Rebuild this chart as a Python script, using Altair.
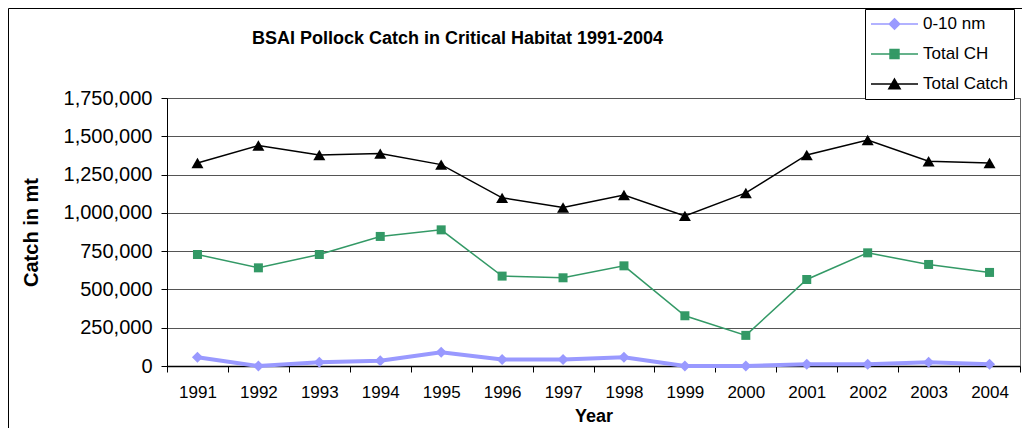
import altair as alt
import pandas as pd

# ---------------- data ----------------
years = ["1991", "1992", "1993", "1994", "1995", "1996", "1997",
         "1998", "1999", "2000", "2001", "2002", "2003", "2004"]
series_names = ["0-10 nm", "Total CH", "Total Catch"]
nm_values = [57000, 0, 24000, 35000, 89000, 43000, 43000,
             57000, 0, 0, 11000, 11000, 24000, 11000]
ch_values = [728000, 641000, 728000, 846000, 889000, 587000, 576000,
             654000, 328000, 200000, 565000, 739000, 663000, 611000]
total_values = [1326000, 1440000, 1378000, 1387000, 1315000, 1098000, 1035000,
                1117000, 980000, 1130000, 1378000, 1476000, 1337000, 1326000]
y_ticks = [0, 250000, 500000, 750000, 1000000, 1250000, 1500000, 1750000]
chart_title = "BSAI Pollock Catch in Critical Habitat 1991-2004"

colors = ["#9999FF", "#339966", "#000000"]
line_widths = [4, 1.5, 1.5]
point_shapes = ["diamond", "square", "triangle-up"]
point_sizes = [121, 81, 144]
legend_paths = [
    "M-1,0H1M0,-0.22L0.22,0L0,0.22L-0.22,0Z",
    "M-1,0H1M-0.19,-0.19H0.19V0.19H-0.19Z",
    "M-1,0H1M0,-0.21L0.24,0.2H-0.24Z",
]

rows = []
for name, vals in zip(series_names, [nm_values, ch_values, total_values]):
    for yr, v in zip(years, vals):
        rows.append({"year": yr, "series": name, "catch": v})
df = pd.DataFrame(rows)

FONT = "Liberation Sans"
W, H = 853, 268

x_enc = alt.X(
    "year:O", sort=years, bandPosition=0.5,
    scale=alt.Scale(type="band", paddingInner=0, paddingOuter=0),
    axis=alt.Axis(
        title="Year", labelAngle=0, tickBand="extent", tickSize=6,
        tickColor="black", domainColor="black", domainWidth=1.5,
        labelFont=FONT, labelFontSize=17, labelColor="black", labelPadding=12,
        titleFont=FONT, titleFontSize=18, titleFontWeight="bold", titleColor="black",
        titleY=55, titleBaseline="alphabetic", grid=False,
    ),
)
y_enc = alt.Y(
    "catch:Q",
    scale=alt.Scale(domain=[0, 1750000], nice=False, zero=True),
    axis=alt.Axis(
        title="Catch in mt", values=y_ticks, format=",.0f", tickSize=6,
        tickColor="black", domainColor="black", domainWidth=1,
        labelFont=FONT, labelFontSize=20, labelColor="black", labelPadding=9,
        titleFont=FONT, titleFontSize=20, titleFontWeight="bold", titleColor="black",
        titleX=-136, titleBaseline="middle", titleAngle=270,
        grid=True, gridColor="#555555", gridWidth=1,
    ),
)

layers = []

# outer chart frame (decoration)
frame = alt.Chart(alt.Data(values=[{}])).mark_rect(
    fillOpacity=0, stroke="black", strokeWidth=1
).encode(x=alt.value(-158.5), x2=alt.value(3000), y=alt.value(-89.5), y2=alt.value(3000))
layers.append(frame)

for name, c, w in zip(series_names, colors, line_widths):
    layers.append(
        alt.Chart(df).transform_filter(alt.datum.series == name)
        .mark_line(color=c, strokeWidth=w)
        .encode(x=x_enc, y=y_enc)
    )
for name, c, s, sz in zip(series_names, colors, point_shapes, point_sizes):
    layers.append(
        alt.Chart(df).transform_filter(alt.datum.series == name)
        .mark_point(filled=True, shape=s, size=sz, color=c, opacity=1)
        .encode(x=x_enc, y=y_enc)
    )

leg = alt.Legend(
    title=None, orient="none", legendX=698, legendY=-89, direction="vertical",
    fillColor="white", strokeColor="black", padding=5, cornerRadius=0,
    symbolSize=2209, symbolStrokeWidth=1.5, symbolOpacity=1,
    labelFont=FONT, labelFontSize=17, labelColor="black", labelOffset=4,
    clipHeight=20, rowPadding=10, labelLimit=200,
)
legend_layer = alt.Chart(df).mark_point(filled=True, opacity=0, strokeWidth=1.5).encode(
    x=x_enc, y=y_enc,
    color=alt.Color("series:N", scale=alt.Scale(domain=series_names, range=colors), legend=leg),
    stroke=alt.Stroke("series:N", scale=alt.Scale(domain=series_names, range=colors), legend=leg),
    shape=alt.Shape("series:N", scale=alt.Scale(domain=series_names, range=legend_paths), legend=leg),
)
layers.append(legend_layer)

title_layer = alt.Chart(alt.Data(values=[{"t": chart_title}])).mark_text(
    font=FONT, fontSize=18, fontWeight="bold", color="black",
    align="center", baseline="alphabetic",
).encode(text="t:N", x=alt.value(290.5), y=alt.value(-54))
layers.append(title_layer)

chart = alt.layer(*layers).properties(
    width=W, height=H,
    autosize=alt.AutoSizeParams(type="none"),
    padding={"left": 159, "top": 90, "right": 2, "bottom": 62},
    background="white",
).configure_view(stroke="#666666", strokeWidth=1)

chart.save("out.html", embed_options={"renderer": "svg", "actions": False})
